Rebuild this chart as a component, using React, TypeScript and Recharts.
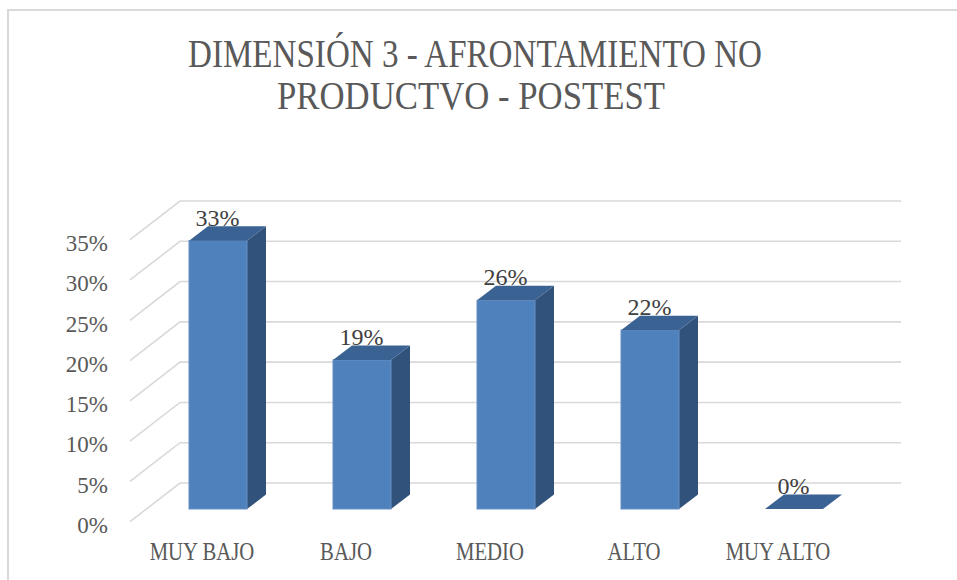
import { BarChart, Bar, XAxis, YAxis, CartesianGrid, LabelList } from 'recharts';

// categories and percentages
const categories = ['MUY BAJO', 'BAJO', 'MEDIO', 'ALTO', 'MUY ALTO'];
const percentages = [33.3, 18.5, 25.9, 22.2, 0];
const yTicks = [0, 5, 10, 15, 20, 25, 30, 35];

const titleLines = ['DIMENSIÓN 3 - AFRONTAMIENTO NO', 'PRODUCTVO - POSTEST'];

const data = categories.map((name, i) => ({ name, value: percentages[i] }));

const FONT = '"Liberation Serif", "DejaVu Serif", serif';
const GRID = '#d9d9d9';
const TEXT = '#595959';

// 3D depth offsets (pseudo perspective like the Excel chart)
const DEPTH_X = 19;
const DEPTH_Y = -14.5;

// horizontal gridline with a diagonal piece on the left, like a back wall
const GridLine = (props: any) => {
  const { x1, x2, y1 } = props;
  const y = Number(y1);
  const d = `M${x1 - 16},${y + 12.7} L${x1 + 34},${y - 26} L${x2 + 35},${y - 26}`;
  return <path key={props.key} d={d} stroke={GRID} strokeWidth={1.6} fill="none" />;
};

const Column3D = (props: any) => {
  const { x, y, width, height } = props;
  const w = width;
  const h = Math.max(0, height);
  const top = `M${x},${y} L${x + DEPTH_X},${y + DEPTH_Y} L${x + w + DEPTH_X},${y + DEPTH_Y} L${x + w},${y} Z`;
  const side = `M${x + w},${y} L${x + w + DEPTH_X},${y + DEPTH_Y} L${x + w + DEPTH_X},${y + h + DEPTH_Y} L${x + w},${y + h} Z`;
  return (
    <g>
      {h > 0 && <path d={side} fill="#31527A" />}
      {h > 0 && <rect x={x} y={y} width={w} height={h} fill="#4F81BD" stroke="#6890C6" strokeWidth={1} />}
      <path d={top} fill="#3A6292" />
    </g>
  );
};

const YTick = (props: any) => {
  const { x, y, payload } = props;
  return (
    <text x={x - 30} y={y + 24} textAnchor="end" fontFamily={FONT} fontSize={23} fill={TEXT}>
      {`${payload.value}%`}
    </text>
  );
};

const XTick = (props: any) => {
  const { x, y, payload } = props;
  return (
    <g transform={`translate(${x - 16},${y + 43}) scale(0.83,1)`}>
      <text x={0} y={0} textAnchor="middle" fontFamily={FONT} fontSize={25} fill={TEXT}>
        {payload.value}
      </text>
    </g>
  );
};

const ValueLabel = (props: any) => {
  const { x, y, width, value } = props;
  return (
    <text x={x + width / 2 - 0.5} y={y - 15} textAnchor="middle" fontFamily={FONT} fontSize={24} fill="#404040">
      {`${Math.round(value)}%`}
    </text>
  );
};

export default function App() {
  return (
    <div style={{ position: 'absolute', left: 0, top: 0, width: 957, height: 580, background: '#fff', overflow: 'hidden' }}>
      {/* chart frame, only the top and left edges are visible */}
      <div
        style={{
          position: 'absolute',
          left: 7,
          top: 9,
          width: 960,
          height: 580,
          borderTop: `2px solid ${GRID}`,
          borderLeft: `2px solid ${GRID}`,
        }}
      />
      <svg width={957} height={130} style={{ position: 'absolute', left: 0, top: 0 }}>
        <text x={475} y={67} textAnchor="middle" fontFamily={FONT} fontSize={40} fill={TEXT} textLength={574} lengthAdjust="spacingAndGlyphs">
          {titleLines[0]}
        </text>
        <text x={471} y={109} textAnchor="middle" fontFamily={FONT} fontSize={40} fill={TEXT} textLength={388} lengthAdjust="spacingAndGlyphs">
          {titleLines[1]}
        </text>
      </svg>
      <div style={{ position: 'absolute', left: 0, top: 0 }}>
        <BarChart width={957} height={580} data={data} margin={{ top: 227, right: 91, bottom: 41, left: 46 }}>
          <CartesianGrid vertical={false} horizontal={GridLine} />
          <XAxis dataKey="name" height={30} axisLine={false} tickLine={false} tick={<XTick />} interval={0} />
          <YAxis
            width={100}
            domain={[0, 35]}
            ticks={yTicks}
            axisLine={false}
            tickLine={false}
            tick={<YTick />}
            interval={0}
          />
          <Bar dataKey="value" barSize={58} shape={<Column3D />} isAnimationActive={false}>
            <LabelList dataKey="value" content={<ValueLabel />} />
          </Bar>
        </BarChart>
      </div>
    </div>
  );
}
